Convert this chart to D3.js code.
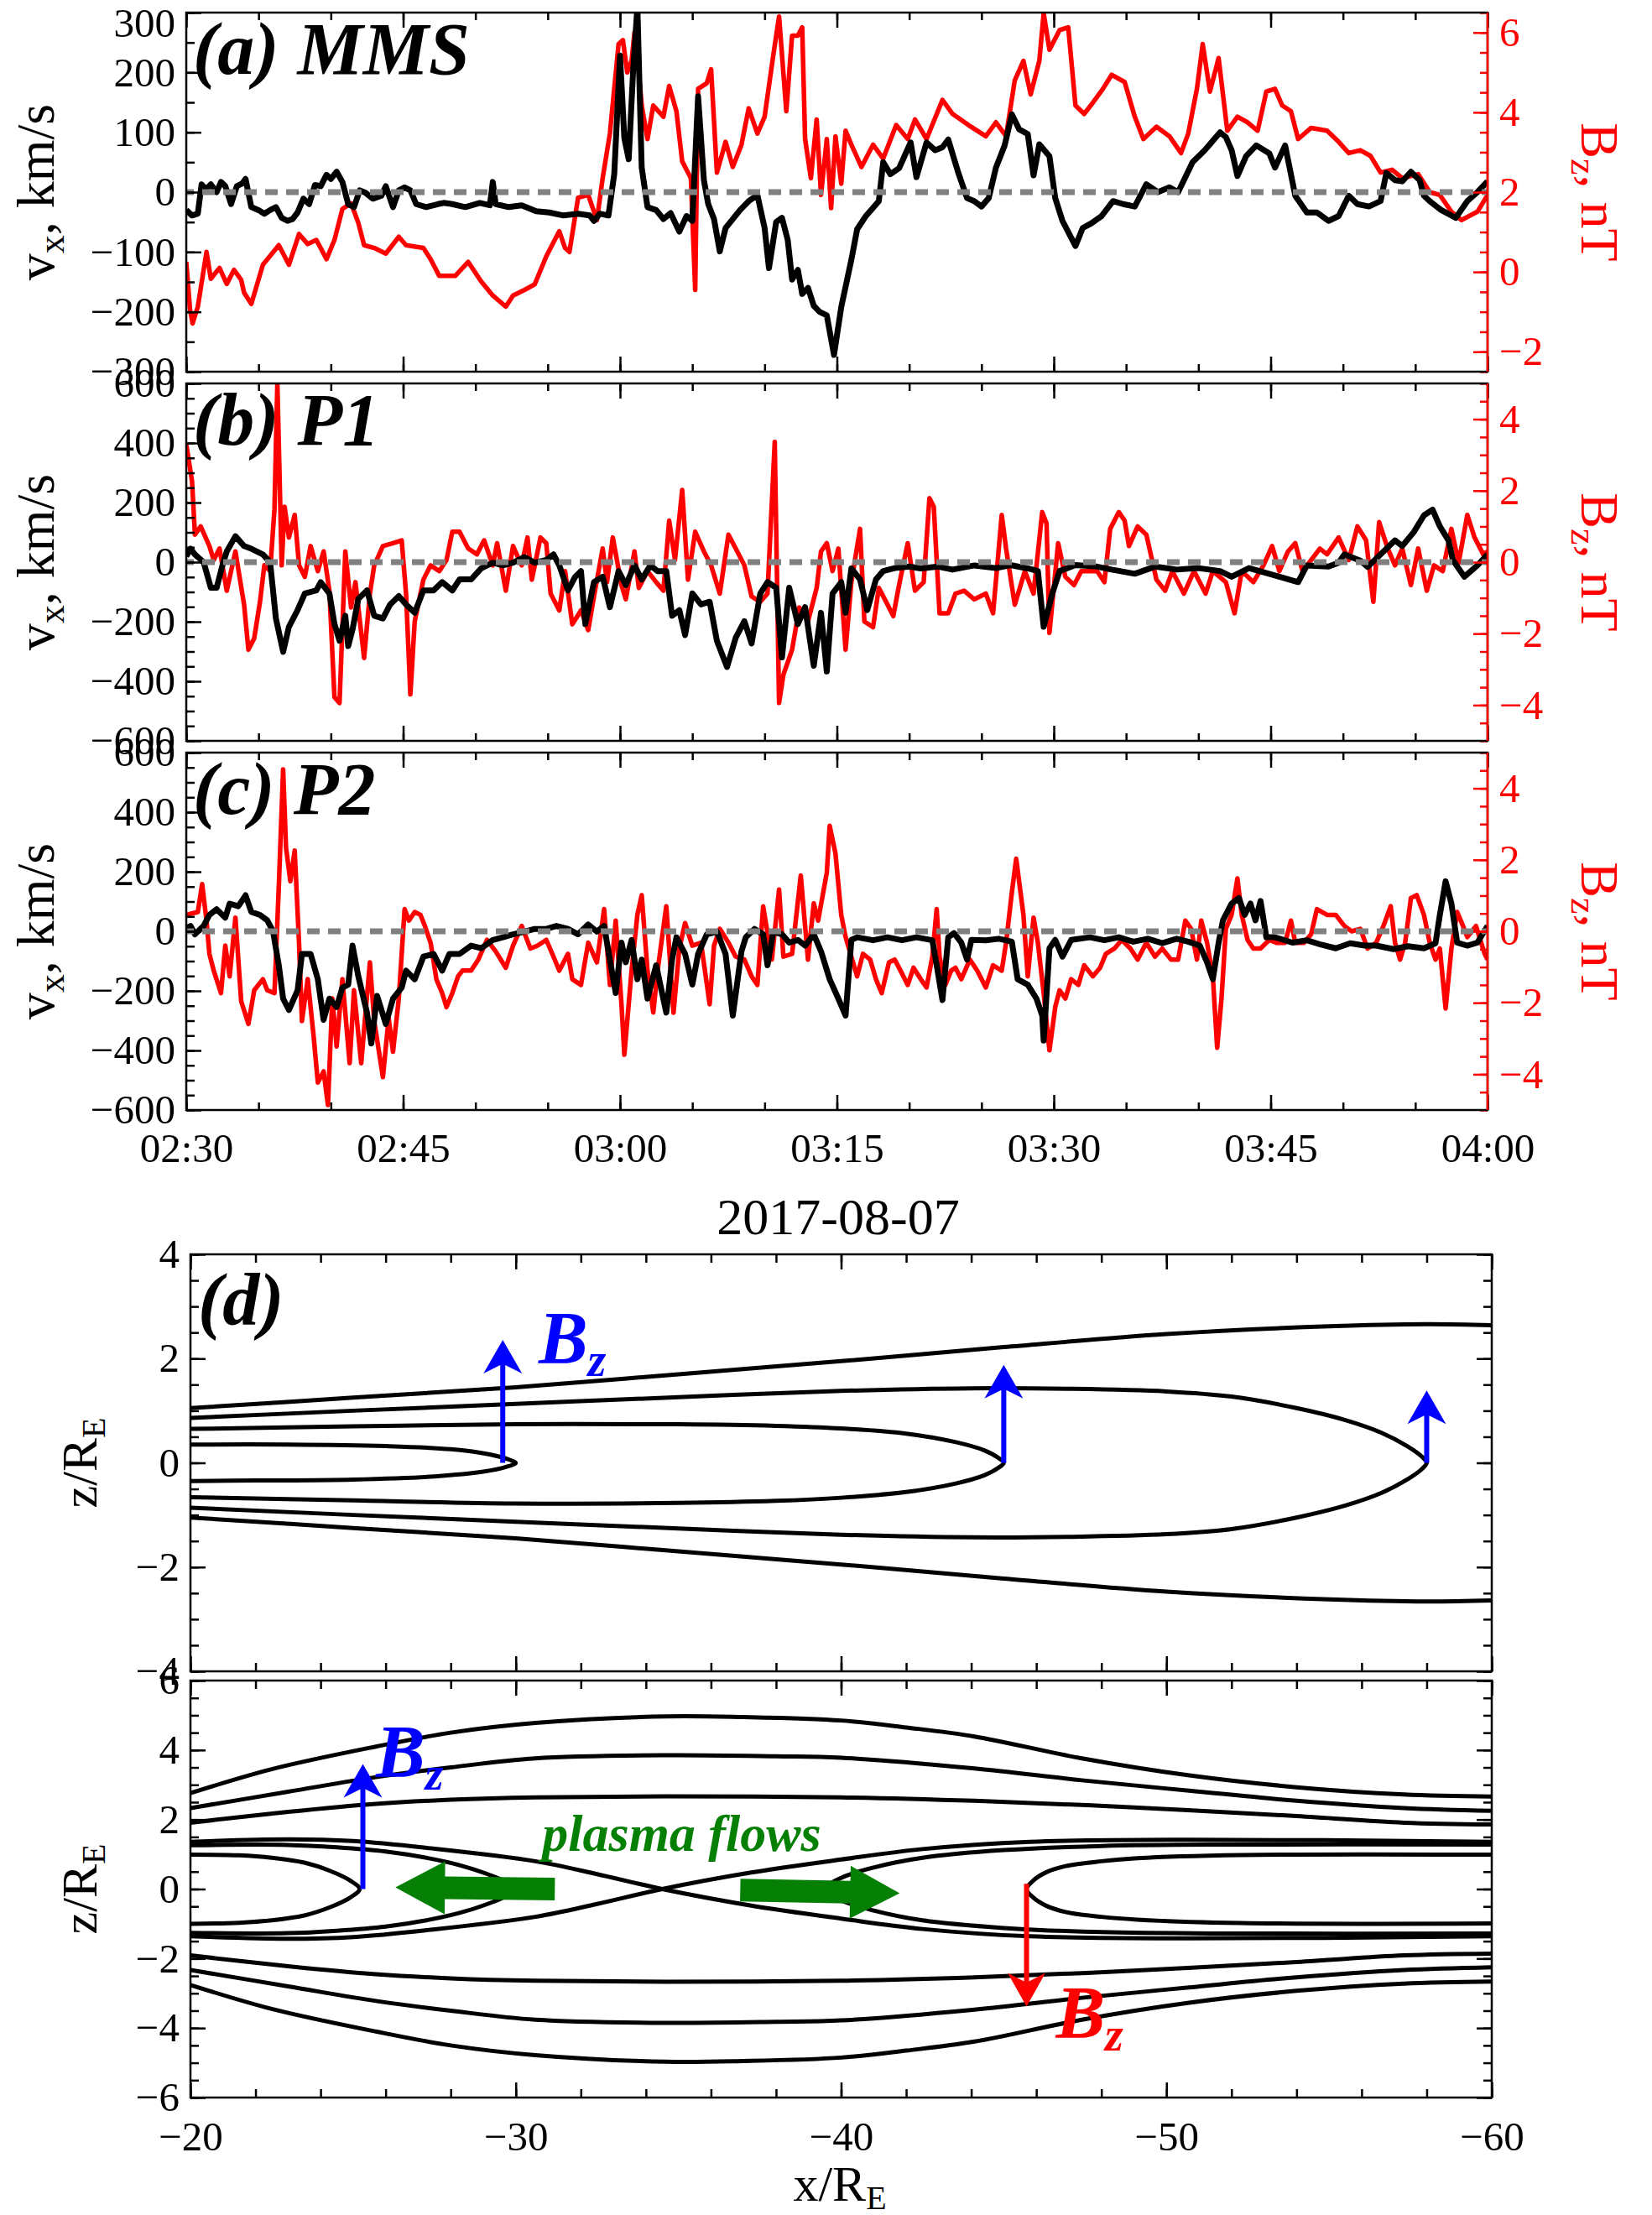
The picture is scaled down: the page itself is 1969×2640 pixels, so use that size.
<!DOCTYPE html>
<html>
<head>
<meta charset="utf-8">
<script src="https://cdn.jsdelivr.net/npm/d3@7"></script>
<style>
  body { margin: 0; background: #fff; }
  svg text { font-family: "Liberation Serif", "Times New Roman", serif; }
</style>
</head>
<body>
<div class="chart"></div>
<script>
// ---------- data (time = minutes after 02:30 UT, 2017-08-07) ----------
const timeTickLabels = ["02:30", "02:45", "03:00", "03:15", "03:30", "03:45", "04:00"];
const timeMajor = [0, 15, 30, 45, 60, 75, 90];

const vTicksA = [-300, -200, -100, 0, 100, 200, 300];
const bTicksA = [-2, 0, 2, 4, 6];
const vTicksBC = [-600, -400, -200, 0, 200, 400, 600];
const bTicksBC = [-4, -2, 0, 2, 4];

// (a) MMS
const mmsVx = [[0,-30],[0.4,-39],[0.8,-36],[1.06,13],[1.35,5],[1.7,13],[2.1,0],[2.4,17],[2.7,10],[3.1,-20],[3.5,10],[3.9,15],[4.1,22],[4.5,-25],[5,-30],[5.4,-36],[5.8,-30],[6.2,-25],[6.6,-43],[7,-48],[7.35,-45],[7.7,-34],[8.1,-11],[8.5,-20],[8.9,12],[9.3,10],[9.7,29],[10,22],[10.4,34],[10.8,17],[11.2,-20],[11.6,-25],[12,3],[12.4,-1],[12.9,-11],[13.5,-6],[13.8,10],[14.3,-25],[14.7,3],[15.1,8],[15.5,3],[15.9,-20],[16.6,-25],[17.4,-20],[17.8,-18],[18.4,-20],[19.3,-25],[20.3,-18],[21,-22],[21.2,17],[21.4,-20],[22.3,-25],[23.2,-22],[24.2,-32],[25.1,-34],[26.1,-39],[27.1,-36],[27.9,-39],[28.2,-48],[28.6,-36],[29.2,-39],[29.6,30],[30,228],[30.3,90],[30.6,55],[30.9,200],[31.2,310],[31.5,41],[31.9,-25],[32.5,-30],[33,-45],[33.5,-35],[34.1,-66],[34.6,-40],[35,-48],[35.4,160],[35.8,20],[36.1,-20],[36.5,-45],[36.9,-99],[37.3,-60],[37.8,-45],[38.3,-30],[38.9,-15],[39.5,-5],[40,-60],[40.3,-127],[40.8,-50],[41.2,-43],[41.6,-80],[41.9,-146],[42.3,-130],[42.6,-170],[43,-160],[43.4,-190],[43.8,-200],[44.3,-206],[44.8,-272],[45.3,-192],[46,-113],[46.4,-62],[47,-40],[47.9,-15],[48.2,50],[48.7,30],[49.3,40],[50.1,83],[50.5,25],[51.2,83],[51.8,70],[52.3,75],[52.7,88],[53.4,32],[54,-10],[54.5,-15],[55,-24],[55.5,-10],[56,41],[56.6,78],[57.1,130],[57.6,105],[58.2,97],[58.6,28],[59,80],[59.7,60],[60.1,-10],[60.6,-48],[61.5,-90],[62,-60],[62.6,-52],[63.3,-40],[64.1,-15],[64.8,-20],[65.6,-24],[66.4,13],[67.2,0],[68,8],[68.6,0],[69,20],[69.6,50],[70.4,69],[70.8,80],[71.5,100],[71.9,92],[72.3,70],[72.7,27],[73.3,60],[74,78],[74.9,65],[75.3,41],[76,78],[76.7,-6],[77.5,-34],[78.2,-34],[79,-48],[79.7,-40],[80.4,-6],[81,-20],[81.8,-24],[82.6,-15],[83,32],[83.6,20],[84.1,18],[84.7,34],[85.3,20],[85.6,-6],[86,-15],[86.8,-30],[87.8,-43],[88.6,-15],[89.3,0],[90,18]];
const mmsBz = [[0,0.25],[0.26,-0.94],[0.44,-1.29],[0.8,-0.87],[1.4,0.5],[1.7,-0.17],[2.3,0.1],[2.8,-0.3],[3.3,0.05],[3.8,-0.2],[4,-0.52],[4.5,-0.8],[5.3,0.18],[5.8,0.4],[6.4,0.67],[7.1,0.18],[7.8,0.95],[8.4,0.7],[9,0.8],[9.7,0.32],[10.25,0.8],[10.8,1.58],[11.4,1.72],[11.9,1.23],[12.3,0.67],[13,0.6],[13.8,0.46],[14.7,0.88],[15.2,0.67],[16.4,0.6],[16.9,0.32],[17.5,-0.1],[18.6,-0.1],[19.5,0.25],[20.4,-0.24],[21.2,-0.59],[22.1,-0.87],[22.6,-0.59],[23.4,-0.45],[24.1,-0.31],[24.9,0.39],[25.8,1.02],[26.2,0.6],[26.5,0.5],[27.1,1.86],[27.8,1.93],[28.4,1.3],[28.8,2.35],[29.3,3.47],[29.9,5.71],[30.2,5.81],[30.5,5.0],[30.8,5.29],[31,6.0],[31.2,5.43],[31.5,4.17],[31.9,3.33],[32.3,4.17],[33,3.89],[33.4,4.66],[33.9,4.03],[34.3,2.77],[34.9,2.35],[35.2,-0.45],[35.4,4.59],[36,4.73],[36.3,5.08],[36.7,2.49],[37.3,3.26],[37.8,2.63],[38.4,3.19],[38.9,4.1],[39.5,3.47],[40,3.89],[40.6,5.43],[41,6.4],[41.5,4.03],[41.9,5.92],[42.3,5.92],[42.6,6.13],[42.8,3.33],[43.2,2.35],[43.6,3.82],[43.9,1.93],[44.3,3.33],[44.6,1.6],[44.9,3.4],[45.3,2.21],[45.6,3.54],[46,3.19],[46.7,2.63],[47.5,3.19],[48.2,2.84],[49.1,3.68],[49.9,3.33],[50.4,3.82],[51.2,3.33],[52.3,4.31],[53,3.96],[54.1,3.68],[55.3,3.4],[56,3.75],[56.7,3.4],[57.3,4.8],[57.9,5.29],[58.4,4.45],[59,5.29],[59.3,6.48],[59.7,5.57],[60.4,6.06],[61,6.13],[61.5,4.17],[62.1,3.96],[62.7,4.24],[63.4,4.59],[64,4.94],[64.9,4.76],[65.6,3.89],[66.2,3.33],[67.1,3.64],[68,3.4],[68.8,2.98],[69.3,3.47],[69.9,4.59],[70.3,5.71],[70.8,4.52],[71.4,5.36],[72,3.54],[72.7,3.89],[73.4,3.75],[74.1,3.54],[74.7,4.52],[75.3,4.59],[75.8,4.17],[76.4,4.03],[76.9,3.33],[77.8,3.61],[78.9,3.54],[79.7,3.26],[80.4,2.98],[81.2,3.05],[81.9,2.91],[82.6,2.49],[83.4,2.56],[84.1,2.35],[85.2,2.45],[86,2.0],[86.7,1.93],[87.5,1.51],[88.2,1.3],[89.3,1.51],[90,1.93]];

// (b) P1
const p1Vx = [[0,20],[0.3,45],[0.6,26],[1.2,0],[1.7,-86],[2.1,-86],[2.5,-11],[2.8,36],[3.4,87],[4,54],[4.5,45],[5.3,26],[5.8,0],[6.2,-189],[6.7,-301],[7.1,-217],[7.7,-161],[8.2,-105],[9,-95],[9.3,-67],[9.9,-105],[10.25,-208],[10.6,-264],[11,-180],[11.2,-282],[11.5,-226],[11.9,-123],[12.5,-95],[13,-180],[13.6,-189],[14.1,-142],[14.7,-114],[15.2,-142],[15.8,-170],[16.4,-95],[17.1,-95],[17.7,-67],[18.4,-95],[18.9,-58],[19.7,-58],[20.4,-21],[21.2,-2],[21.9,-11],[22.6,-2],[23.4,17],[24.1,-2],[24.9,7],[25.4,26],[25.8,-11],[26.4,-95],[26.9,-49],[27.3,-30],[27.6,-208],[28.2,-67],[28.8,-49],[29.3,-151],[29.9,-30],[30.4,-77],[31,-11],[31.5,-58],[32.1,-11],[32.6,-30],[33.2,-30],[33.6,-180],[34.1,-161],[34.5,-245],[35,-105],[35.6,-142],[36.2,-133],[36.7,-264],[37.4,-352],[38,-254],[38.6,-198],[39.1,-273],[39.7,-105],[40.2,-67],[40.8,-86],[41.2,-320],[41.7,-86],[42.3,-208],[42.8,-151],[43.4,-348],[43.9,-170],[44.3,-367],[44.7,-105],[45.3,-67],[45.6,-170],[46,-21],[46.6,-58],[47.1,-161],[47.7,-58],[48.2,-30],[49,-20],[50,-15],[50.8,-21],[52,-15],[53,-25],[54.5,-11],[56,-20],[57,-10],[58.2,-21],[58.9,-30],[59.3,-217],[59.9,-105],[60.4,-30],[61.5,-10],[63,-15],[64,-25],[65.6,-39],[67,-15],[68.5,-25],[70,-20],[71.5,-30],[72.3,-49],[73.5,-20],[75.6,-49],[76.9,-67],[77.5,-11],[79,-15],[79.7,-2],[80.1,26],[81.2,5],[81.7,-16],[82.6,26],[83.6,73],[84.1,54],[84.9,101],[85.6,157],[86.2,176],[86.7,120],[87.3,73],[87.6,7],[88.4,-49],[89.3,-11],[90,26]];
const p1Bz = [[0,3.3],[0.1,3.04],[0.4,2.26],[0.6,0.77],[1,1.0],[1.6,0.45],[1.9,0.06],[2.3,0.38],[2.8,-0.8],[3.4,0.3],[4,-1.19],[4.3,-2.45],[4.7,-2.13],[5.1,-1.11],[5.4,-0.09],[5.8,-0.25],[6.1,1.47],[6.3,5.0],[6.6,-0.09],[6.8,1.55],[7.1,0.69],[7.5,1.32],[7.8,-0.09],[8.2,-0.41],[8.6,0.45],[9.1,-0.25],[9.5,0.3],[9.9,-0.8],[10.25,-3.78],[10.6,-3.94],[11,0.3],[11.4,-1.27],[11.7,-0.56],[12.3,-2.68],[12.7,-0.88],[13,-0.09],[13.6,0.45],[14.3,0.53],[14.9,0.61],[15.2,-0.88],[15.5,-3.7],[15.8,-1.66],[16.4,-0.49],[16.9,-0.09],[17.5,-0.25],[18,0.06],[18.4,0.85],[18.9,0.85],[19.5,0.38],[20.1,0.22],[20.6,0.61],[21.2,-0.09],[21.5,0.53],[22.1,-0.8],[22.6,0.45],[23.2,-0.09],[23.6,0.69],[23.9,-0.49],[24.5,0.69],[24.9,0.53],[25.2,-0.88],[25.8,-1.35],[26.2,-0.25],[26.7,-1.74],[27.3,-1.35],[27.8,-1.9],[28.2,-0.96],[28.8,0.38],[29.1,-0.56],[29.5,0.69],[30.1,-0.64],[30.4,-1.04],[31,0.3],[31.3,-0.72],[31.9,-0.25],[32.5,-0.56],[33,-0.8],[33.4,1.16],[33.8,0.06],[34.3,2.02],[34.7,-0.49],[35.2,0.85],[35.8,0.3],[36.3,-0.09],[36.9,-0.88],[37.5,0.77],[38,0.38],[38.6,-0.09],[39.1,-0.96],[39.7,-1.11],[40.2,-0.88],[40.7,3.36],[41,-3.94],[41.3,-3.15],[41.9,-2.45],[42.4,-1.27],[43,-1.66],[43.6,-0.72],[43.9,0.3],[44.3,0.53],[44.7,-0.25],[45.1,0.38],[45.6,-2.45],[46,-0.56],[46.6,0.93],[46.9,-1.66],[47.5,-1.82],[47.9,-0.72],[48.4,-1.11],[48.9,-1.51],[49.3,-0.64],[49.9,0.53],[50.4,-0.8],[51,-0.56],[51.4,1.79],[51.7,1.55],[52.1,-1.43],[52.7,-1.43],[53.2,-0.88],[53.8,-0.8],[54.5,-1.04],[55.3,-0.88],[55.8,-1.43],[56.4,1.32],[56.7,0.38],[57.3,-1.19],[58,-0.25],[58.6,-0.88],[59.2,1.4],[59.5,1.08],[59.7,-1.98],[60.3,0.53],[60.8,-0.41],[61.4,-0.64],[61.9,-0.25],[63,-0.25],[63.5,-0.56],[63.9,0.93],[64.5,1.4],[64.9,1.16],[65.2,0.45],[65.8,1.0],[66.4,0.77],[67.1,-0.49],[67.7,-0.8],[68.2,-0.25],[69,-0.88],[69.7,-0.25],[70.5,-0.88],[71,-0.25],[71.9,-0.56],[72.5,-1.43],[73,-0.25],[73.8,-0.56],[74.5,-0.09],[75.1,0.45],[75.6,-0.25],[76.2,0.3],[76.7,0.53],[77.2,-0.25],[77.8,0.06],[78.4,0.38],[78.9,0.22],[79.7,0.69],[80.4,0.06],[81,1.0],[81.6,0.61],[82.1,-1.11],[82.5,1.12],[83.1,0.38],[83.6,-0.09],[84.1,0.38],[84.7,-0.64],[85.2,0.38],[85.8,-0.8],[86.3,-0.09],[86.9,-0.25],[87.5,0.93],[88,-0.02],[88.6,1.32],[89.1,0.69],[89.7,0.22],[90,0.3]];

// (c) P2
const p2Vx = [[0,10],[0.3,18],[0.6,-10],[1.2,18],[1.6,55],[2.1,74],[2.7,46],[3,93],[3.6,84],[4.1,121],[4.5,65],[5.1,55],[5.6,37],[6,0],[6.4,-114],[6.7,-226],[7.1,-264],[7.7,-198],[8,-76],[8.6,-76],[9.1,-161],[9.5,-297],[9.9,-226],[10.4,-254],[10.8,-189],[11.2,-179],[11.5,-48],[11.9,-151],[12.5,-273],[12.8,-377],[13.2,-217],[13.8,-311],[14.3,-226],[14.9,-189],[15.2,-132],[15.8,-161],[16.4,-85],[17.1,-76],[17.7,-132],[18.2,-76],[18.9,-76],[19.7,-48],[20.4,-57],[21.2,-29],[21.9,-20],[22.6,-10],[23.4,-1],[24.1,8],[24.9,8],[25.6,18],[26.4,8],[27.1,-10],[27.8,23],[28.4,-1],[28.9,18],[29.3,-95],[29.7,-207],[30.1,-38],[30.4,-104],[30.8,-29],[31.2,-161],[31.5,-95],[31.9,-226],[32.5,-114],[33.2,-273],[33.6,-95],[33.9,-20],[34.5,-76],[35,-179],[35.4,-76],[36,-10],[36.7,-1],[37.3,-76],[37.8,-283],[38.4,-67],[38.7,-20],[39.3,8],[39.9,-10],[40.2,-114],[40.6,-1],[41.2,-10],[41.7,-38],[42.3,-29],[42.8,-48],[43.4,-10],[43.9,-67],[44.5,-161],[45.1,-226],[45.6,-283],[46,-29],[46.4,-20],[47.5,-30],[48.5,-20],[49.5,-30],[50.5,-20],[51.6,-30],[51.9,-114],[52.3,-231],[52.7,-20],[53.1,-6],[53.6,-38],[54,-95],[54.3,-29],[55.3,-30],[56.2,-25],[57.1,-35],[57.5,-161],[58.2,-179],[58.8,-226],[59.2,-283],[59.3,-367],[59.7,-57],[60.1,-29],[60.6,-85],[61.2,-29],[62.5,-20],[63.5,-30],[64.5,-20],[65.5,-35],[66.5,-25],[67.5,-40],[68.5,-25],[69.3,-35],[70.1,-48],[70.6,-104],[71,-161],[71.4,-38],[71.7,37],[72.3,93],[72.8,112],[73.2,55],[73.6,93],[73.95,37],[74.3,102],[74.7,-20],[75.3,-20],[76.5,-38],[77.5,-30],[78.5,-45],[79.5,-57],[80.5,-40],[81.5,-48],[82.3,-48],[83.5,-60],[84.5,-50],[85.6,-57],[86.4,-40],[86.7,55],[87.1,168],[87.5,93],[87.9,-38],[88.6,-48],[89.3,-38],[90,18]];
const p2Bz = [[0,0.46],[0.8,0.54],[1.1,1.32],[1.4,0.3],[1.6,-0.63],[1.9,-1.1],[2.4,-1.73],[2.7,-0.4],[3,-1.26],[3.4,0.38],[3.8,-1.96],[4.3,-2.59],[4.7,-1.65],[5.3,-1.34],[5.6,-1.65],[6.1,-1.73],[6.4,1.24],[6.7,4.53],[6.9,2.34],[7.2,1.4],[7.5,2.26],[7.8,-0.32],[8,-2.51],[8.4,-1.34],[8.8,-2.9],[9.1,-4.23],[9.5,-3.92],[9.8,-4.86],[10.1,-1.88],[10.4,-3.22],[10.8,-1.34],[11.3,-3.69],[11.6,-1.65],[12.1,-3.69],[12.7,-0.87],[13,-2.51],[13.6,-4.08],[14,-2.43],[14.3,-3.37],[14.7,-1.88],[15.1,0.62],[15.4,0.3],[15.8,0.54],[16.2,0.46],[16.5,0.15],[16.9,-0.32],[17.3,-1.34],[17.7,-1.73],[18,-2.12],[18.4,-1.73],[18.8,-1.26],[19.1,-1.1],[19.7,-1.1],[20.2,-0.79],[20.8,-0.24],[21.4,-0.56],[22.1,-1.02],[22.6,-0.4],[23.2,0.15],[23.8,-0.48],[24.3,-0.4],[24.9,-0.24],[25.4,-0.71],[25.8,-1.1],[26.4,-0.63],[26.7,-1.34],[27.3,-1.5],[27.8,-0.32],[28.4,-0.87],[28.9,0.62],[29.3,-1.5],[29.7,0.3],[30.1,-2.04],[30.3,-3.45],[30.8,-1.1],[31.2,0.46],[31.5,1.01],[31.9,-1.1],[32.3,-2.27],[32.6,-1.1],[33.2,0.7],[33.7,-2.28],[34.1,-0.48],[34.5,0.23],[35,-0.4],[35.6,-0.32],[36.2,-2.04],[36.5,-0.4],[36.9,0.07],[37.5,-0.32],[38,-0.71],[38.6,-0.79],[39.1,-1.26],[39.5,-1.5],[39.9,0.7],[40.5,-0.79],[41,1.17],[41.3,-0.71],[41.9,-0.63],[42.5,1.56],[43,-0.79],[43.4,0.78],[43.7,0.3],[44.3,1.64],[44.5,2.95],[44.9,2.18],[45.3,0.46],[45.6,-0.16],[46,-0.71],[46.4,-1.26],[46.8,-0.63],[47.3,-0.79],[47.7,-1.34],[48.1,-1.73],[48.6,-0.87],[49,-0.79],[49.4,-1.1],[49.9,-1.5],[50.3,-1.02],[50.8,-1.34],[51.2,-1.57],[51.6,-0.71],[51.9,0.62],[52.1,-0.71],[52.5,-1.5],[52.9,-1.1],[53.2,-1.02],[53.6,-1.34],[54.2,-0.79],[54.7,-1.1],[55.3,-1.57],[55.8,-0.95],[56.4,-1.1],[56.7,-0.32],[57.1,1.09],[57.4,2.03],[57.9,0.46],[58.2,-1.26],[58.6,0.38],[58.9,-0.32],[59.3,-1.73],[59.7,-3.33],[60.1,-2.12],[60.4,-1.65],[60.8,-1.88],[61.2,-1.34],[61.7,-1.5],[62.1,-0.95],[62.7,-1.26],[63.2,-1.02],[63.6,-0.63],[64.2,-0.48],[64.7,-0.24],[65.3,-0.48],[65.8,-0.79],[66.4,-0.32],[67,-0.71],[67.5,-0.48],[68.1,-0.79],[68.6,-0.79],[69.1,0.3],[69.5,0.07],[69.9,-0.79],[70.2,0.3],[70.6,-0.32],[71,-1.26],[71.3,-3.26],[71.6,-1.88],[71.9,0.07],[72.3,0.46],[72.7,1.48],[73,0.46],[73.4,-0.24],[73.8,-0.48],[74.3,-0.48],[74.9,-0.24],[75.4,-0.32],[76,-0.32],[76.4,0.3],[76.7,-0.32],[77.3,-0.32],[77.8,-0.08],[78.2,0.62],[78.9,0.46],[79.5,0.46],[80.1,0.15],[80.6,0],[81.2,0.07],[81.7,-0.48],[82.3,-0.32],[82.8,0.15],[83.3,0.7],[83.6,-0.32],[83.95,-0.79],[84.3,-0.32],[84.7,0.93],[85.1,1.01],[85.6,0.46],[86,-0.32],[86.4,-0.79],[86.7,-0.48],[87.1,-2.16],[87.5,-0.48],[87.9,0.54],[88.3,0.15],[88.6,-0.16],[89.2,0.15],[89.8,-0.63],[90,-0.79]];

// (d) field-line sketches, [x/RE, z/RE]
const xTicksD = [-20, -30, -40, -50, -60];
const zTicksTop = [-4, -2, 0, 2, 4];
const zTicksBot = [-6, -4, -2, 0, 2, 4, 6];

const topOpenUp = [[-20,1.05],[-25,1.25],[-30,1.45],[-35,1.7],[-40,1.95],[-45,2.22],[-50,2.47],[-55,2.62],[-58,2.66],[-60,2.64]];
const topOpenDn = [[-20,-1.05],[-25,-1.25],[-30,-1.45],[-35,-1.7],[-40,-1.95],[-45,-2.22],[-50,-2.47],[-55,-2.62],[-58,-2.66],[-60,-2.64]];
const topLoop58 = [[-20,0.86],[-25,1.0],[-30,1.13],[-35,1.26],[-40,1.38],[-44,1.43],[-47,1.42],[-50,1.37],[-52,1.27],[-54,1.05],[-55.5,0.82],[-56.6,0.58],[-57.4,0.32],[-57.85,0.12],[-58,0],[-57.85,-0.12],[-57.4,-0.32],[-56.6,-0.58],[-55.5,-0.82],[-54,-1.05],[-52,-1.27],[-50,-1.37],[-47,-1.42],[-44,-1.43],[-40,-1.38],[-35,-1.26],[-30,-1.13],[-25,-1.0],[-20,-0.86]];
const topLoop45 = [[-20,0.65],[-25,0.7],[-30,0.74],[-35,0.74],[-38,0.71],[-40,0.66],[-42,0.56],[-43.5,0.4],[-44.4,0.24],[-44.85,0.09],[-45,0],[-44.85,-0.09],[-44.4,-0.24],[-43.5,-0.4],[-42,-0.56],[-40,-0.67],[-38,-0.73],[-35,-0.77],[-30,-0.78],[-25,-0.72],[-20,-0.66]];
const topLoop30 = [[-20,0.35],[-23,0.35],[-26,0.32],[-28,0.26],[-29.2,0.16],[-29.8,0.06],[-30,0],[-29.7,-0.08],[-29,-0.17],[-27.5,-0.26],[-25,-0.32],[-22,-0.34],[-20,-0.35]];
const topBzArrows = [[-29.6, 0, 2.36], [-45, 0, 1.88], [-58, 0, 1.39]];

const botOut1Up = [[-20,2.76],[-22.5,3.45],[-25.7,4.1],[-28,4.5],[-30.6,4.78],[-34.6,4.97],[-37,4.95],[-40,4.85],[-42,4.65],[-44.1,4.39],[-47.4,3.76],[-50.7,3.27],[-54,2.93],[-57.3,2.72],[-60,2.66]];
const botOut1Dn = [[-20,-2.76],[-22.5,-3.45],[-25.7,-4.1],[-28,-4.5],[-30.6,-4.78],[-34.6,-4.97],[-37,-4.95],[-40,-4.85],[-42,-4.65],[-44.1,-4.39],[-47.4,-3.76],[-50.7,-3.27],[-54,-2.93],[-57.3,-2.72],[-60,-2.66]];
const botOut2Up = [[-20,2.33],[-23,2.8],[-25.7,3.22],[-28,3.5],[-30.6,3.76],[-34.6,3.85],[-38,3.82],[-40,3.78],[-44.1,3.47],[-47.4,3.13],[-50.7,2.83],[-54,2.54],[-57.3,2.33],[-60,2.25]];
const botOut2Dn = [[-20,-2.33],[-23,-2.8],[-25.7,-3.22],[-28,-3.5],[-30.6,-3.76],[-34.6,-3.85],[-38,-3.82],[-40,-3.78],[-44.1,-3.47],[-47.4,-3.13],[-50.7,-2.83],[-54,-2.54],[-57.3,-2.33],[-60,-2.25]];
const botOut3Up = [[-20,1.91],[-23,2.22],[-25.7,2.45],[-28,2.57],[-30.6,2.64],[-34.6,2.67],[-40,2.64],[-44.1,2.54],[-49,2.35],[-54,2.1],[-57.3,1.91],[-60,1.86]];
const botOut3Dn = [[-20,-1.91],[-23,-2.22],[-25.7,-2.45],[-28,-2.57],[-30.6,-2.64],[-34.6,-2.67],[-40,-2.64],[-44.1,-2.54],[-49,-2.35],[-54,-2.1],[-57.3,-1.91],[-60,-1.86]];
const separatrix1 = [[-20,1.36],[-23,1.43],[-25,1.38],[-27.3,1.18],[-30.6,0.8],[-32.5,0.43],[-34.5,0],[-37.2,-0.47],[-40,-0.85],[-42.5,-1.15],[-45.8,-1.36],[-50.7,-1.42],[-60,-1.36]];
const separatrix2 = [[-20,-1.36],[-23,-1.43],[-25,-1.38],[-27.3,-1.18],[-30.6,-0.8],[-32.5,-0.43],[-34.5,0],[-37.2,0.47],[-40,0.85],[-42.5,1.15],[-45.8,1.36],[-50.7,1.42],[-60,1.36]];
const botLoop30 = [[-20,1.26],[-23,1.27],[-24.5,1.2],[-26,1.08],[-27.3,0.89],[-28.3,0.68],[-29.1,0.44],[-29.7,0.2],[-29.9,0],[-29.7,-0.2],[-29.1,-0.44],[-28.3,-0.68],[-27.3,-0.89],[-26,-1.08],[-24.5,-1.2],[-23,-1.27],[-20,-1.26]];
const botLoop39 = [[-60,1.28],[-52,1.28],[-48,1.24],[-45,1.12],[-42.5,0.9],[-41,0.62],[-40,0.32],[-39.5,0],[-40,-0.32],[-41,-0.62],[-42.5,-0.9],[-45,-1.12],[-48,-1.24],[-52,-1.28],[-60,-1.28]];
const botLoop25 = [[-20,0.99],[-21.5,0.97],[-22.5,0.9],[-23.5,0.76],[-24.3,0.52],[-24.9,0.25],[-25.2,0],[-24.9,-0.25],[-24.3,-0.52],[-23.5,-0.76],[-22.5,-0.9],[-21.5,-0.97],[-20,-1.0]];
const botLoop46 = [[-60,0.99],[-52.3,0.98],[-49.1,0.89],[-48,0.8],[-46.9,0.66],[-46.3,0.48],[-45.9,0.24],[-45.7,0],[-45.9,-0.24],[-46.3,-0.48],[-46.9,-0.66],[-48,-0.8],[-49.1,-0.88],[-52.3,-0.98],[-60,-0.99]];
const botBzUp = [-25.3, 0, 3.6];
const botBzDown = [-45.7, 0.15, -3.38];
const flowArrows = [[-31.2, 0.0, -26.3, 0.05], [-36.9, -0.03, -41.8, -0.12]];

// ---------- layout ----------
const W = 1969, H = 2640;
const FS = 49;
const svg = d3.select(".chart").append("svg")
  .attr("width", W).attr("height", H)
  .style("background", "#fff");
const defs = svg.append("defs");

const x = d3.scaleLinear().domain([0, 90]).range([222, 1773]);
const fmt = d3.format("d");

function styleAxis(sel, color, fs) {
  sel.select(".domain").remove();
  sel.selectAll("line").attr("stroke", color).attr("stroke-width", 2.5);
  sel.selectAll("text").attr("fill", color).attr("font-size", fs)
    .style("font-family", "'Liberation Serif', serif");
}

function arrowPoints(x1, y1, x2, y2, sw, hw, hl, notch) {
  const L = Math.hypot(x2 - x1, y2 - y1);
  const ux = (x2 - x1) / L, uy = (y2 - y1) / L, nx = -uy, ny = ux;
  const bx = x2 - ux * hl, by = y2 - uy * hl;
  const sx = bx + ux * notch, sy = by + uy * notch;
  return [
    [x1 + nx * sw / 2, y1 + ny * sw / 2],
    [sx + nx * sw / 2, sy + ny * sw / 2],
    [bx + nx * hw / 2, by + ny * hw / 2],
    [x2, y2],
    [bx - nx * hw / 2, by - ny * hw / 2],
    [sx - nx * sw / 2, sy - ny * sw / 2],
    [x1 - nx * sw / 2, y1 - ny * sw / 2]
  ];
}

function drawArrow(g, pts, color) {
  g.append("polygon").attr("points", pts.map(p => p.join(",")).join(" ")).attr("fill", color);
}

// ---------- panels (a)-(c) ----------
const panels = [
  {key: "a", name: "MMS", top: 15, bottom: 443, vx: mmsVx, bz: mmsBz, vDom: [-300, 300], vTicks: vTicksA, vMinor: 50, bDom: [-2.5, 6.5], bTicks: bTicksA},
  {key: "b", name: "P1", top: 457, bottom: 883, vx: p1Vx, bz: p1Bz, vDom: [-600, 600], vTicks: vTicksBC, vMinor: 50, bDom: [-5, 5], bTicks: bTicksBC},
  {key: "c", name: "P2", top: 897, bottom: 1323, vx: p2Vx, bz: p2Bz, vDom: [-600, 600], vTicks: vTicksBC, vMinor: 50, bDom: [-5, 5], bTicks: bTicksBC}
];

panels.forEach((p, i) => {
  const X0 = x.range()[0], X1 = x.range()[1];
  const y = d3.scaleLinear().domain(p.vDom).range([p.bottom, p.top]);
  const yb = d3.scaleLinear().domain(p.bDom).range([p.bottom, p.top]);
  const g = svg.append("g").attr("class", "panel-" + p.key);

  defs.append("clipPath").attr("id", "clip-" + p.key)
    .append("rect").attr("x", X0).attr("y", p.top).attr("width", X1 - X0).attr("height", p.bottom - p.top);

  const plot = g.append("g").attr("clip-path", `url(#clip-${p.key})`);
  plot.append("path").datum(p.bz)
    .attr("d", d3.line().x(d => x(d[0])).y(d => yb(d[1])))
    .attr("fill", "none").attr("stroke", "#ff0000").attr("stroke-width", 5.5).attr("stroke-linejoin", "round");
  plot.append("path").datum(p.vx)
    .attr("d", d3.line().x(d => x(d[0])).y(d => y(d[1])))
    .attr("fill", "none").attr("stroke", "#000").attr("stroke-width", 7).attr("stroke-linejoin", "round");
  plot.append("line")
    .attr("x1", X0).attr("x2", X1).attr("y1", y(0)).attr("y2", y(0))
    .attr("stroke", "#808080").attr("stroke-width", 7)
    .attr("stroke-dasharray", "15,10").attr("stroke-dashoffset", 6);

  // left axis (v_x)
  g.append("g").attr("transform", `translate(${X0},0)`)
    .call(d3.axisLeft(y).tickValues(d3.range(p.vDom[0], p.vDom[1] + 1, p.vMinor)).tickSize(-10).tickFormat(""))
    .call(s => styleAxis(s, "#000", FS));
  const left = g.append("g").attr("transform", `translate(${X0},0)`)
    .call(d3.axisLeft(y).tickValues(p.vTicks).tickSize(-18).tickPadding(13).tickFormat(fmt))
    .call(s => styleAxis(s, "#000", FS));
  // the top label of the first panel sits just inside the picture, as in the original
  if (i === 0) left.selectAll(".tick").filter(d => d === p.vDom[1]).select("text").attr("y", 13);

  // right axis (Bz)
  g.append("g").attr("transform", `translate(${X1},0)`)
    .call(d3.axisRight(yb).tickValues(d3.range(p.bDom[0], p.bDom[1] + 0.01, 0.5)).tickSize(-9).tickFormat(""))
    .call(s => styleAxis(s, "#ff0000", FS));
  g.append("g").attr("transform", `translate(${X1},0)`)
    .call(d3.axisRight(yb).tickValues(p.bTicks).tickSize(-17).tickPadding(14).tickFormat(fmt))
    .call(s => styleAxis(s, "#ff0000", FS));

  // time ticks, top and bottom
  const minorT = d3.range(0, 91, 5);
  [["top", p.top], ["bottom", p.bottom]].forEach(([side, yy]) => {
    const ax = side === "top" ? d3.axisTop : d3.axisBottom;
    g.append("g").attr("transform", `translate(0,${yy})`)
      .call(ax(x).tickValues(minorT).tickSize(-9).tickFormat(""))
      .call(s => styleAxis(s, "#000", FS));
    const major = ax(x).tickValues(timeMajor).tickSize(-18);
    if (side === "bottom" && i === panels.length - 1) {
      major.tickPadding(27).tickFormat((d, k) => timeTickLabels[k]);
    } else {
      major.tickFormat("");
    }
    g.append("g").attr("transform", `translate(0,${yy})`).call(major)
      .call(s => styleAxis(s, "#000", FS));
  });

  // frame
  g.append("rect").attr("x", X0).attr("y", p.top).attr("width", X1 - X0).attr("height", p.bottom - p.top)
    .attr("fill", "none").attr("stroke", "#000").attr("stroke-width", 2.5);
  g.append("line").attr("x1", X1).attr("x2", X1).attr("y1", p.top).attr("y2", p.bottom)
    .attr("stroke", "#ff0000").attr("stroke-width", 2.5);

  // panel label
  g.append("text").attr("x", 230).attr("y", p.top + 73)
    .attr("font-size", 88).attr("font-weight", "bold").attr("font-style", "italic")
    .text(`(${p.key}) ${p.name}`);

  // axis titles
  const cy = (p.top + p.bottom) / 2;
  const yl = g.append("text").attr("transform", `translate(64,${cy}) rotate(-90)`)
    .attr("text-anchor", "middle").attr("font-size", 64).attr("fill", "#000");
  yl.append("tspan").text("v");
  yl.append("tspan").attr("font-size", 44).attr("dy", 12).text("x");
  yl.append("tspan").attr("dy", -12).text(", km/s");

  const br = g.append("text").attr("transform", `translate(1885,${cy}) rotate(90)`)
    .attr("text-anchor", "middle").attr("font-size", 64).attr("fill", "#ff0000");
  br.append("tspan").text("B");
  br.append("tspan").attr("font-size", 44).attr("dy", 12).text("z");
  br.append("tspan").attr("dy", -12).text(", nT");
});

// date
svg.append("text").attr("x", 999).attr("y", 1471).attr("text-anchor", "middle")
  .attr("font-size", 62).text("2017-08-07");

// ---------- panel (d) ----------
const xd = d3.scaleLinear().domain([-20, -60]).range([227, 1778]);
const dPanels = [
  {key: "d1", top: 1495, bottom: 1992, zDom: [-4, 4], zTicks: zTicksTop, labels: false},
  {key: "d2", top: 2003, bottom: 2500, zDom: [-6, 6], zTicks: zTicksBot, labels: true}
];
const curve = d3.curveCatmullRom.alpha(0.5);

dPanels.forEach(p => {
  const X0 = xd.range()[0], X1 = xd.range()[1];
  const z = d3.scaleLinear().domain(p.zDom).range([p.bottom, p.top]);
  p.z = z;
  const g = svg.append("g").attr("class", "panel-" + p.key);

  defs.append("clipPath").attr("id", "clip-" + p.key)
    .append("rect").attr("x", X0).attr("y", p.top).attr("width", X1 - X0).attr("height", p.bottom - p.top);
  p.plot = g.append("g").attr("clip-path", `url(#clip-${p.key})`);
  p.line = d3.line().x(d => xd(d[0])).y(d => z(d[1])).curve(curve);

  const minorZ = d3.range(p.zDom[0], p.zDom[1] + 0.01, 0.5);
  g.append("g").attr("transform", `translate(${X0},0)`)
    .call(d3.axisLeft(z).tickValues(minorZ).tickSize(-10).tickFormat(""))
    .call(s => styleAxis(s, "#000", FS));
  g.append("g").attr("transform", `translate(${X0},0)`)
    .call(d3.axisLeft(z).tickValues(p.zTicks).tickSize(-18).tickPadding(13).tickFormat(fmt))
    .call(s => styleAxis(s, "#000", FS));
  g.append("g").attr("transform", `translate(${X1},0)`)
    .call(d3.axisRight(z).tickValues(minorZ).tickSize(-10).tickFormat(""))
    .call(s => styleAxis(s, "#000", FS));
  g.append("g").attr("transform", `translate(${X1},0)`)
    .call(d3.axisRight(z).tickValues(p.zTicks).tickSize(-18).tickFormat(""))
    .call(s => styleAxis(s, "#000", FS));

  const minorX = d3.range(-20, -60.01, -2);
  [["top", p.top], ["bottom", p.bottom]].forEach(([side, yy]) => {
    const ax = side === "top" ? d3.axisTop : d3.axisBottom;
    g.append("g").attr("transform", `translate(0,${yy})`)
      .call(ax(xd).tickValues(minorX).tickSize(-10).tickFormat(""))
      .call(s => styleAxis(s, "#000", FS));
    const major = ax(xd).tickValues(xTicksD).tickSize(-18);
    if (side === "bottom" && p.labels) major.tickPadding(28).tickFormat(fmt);
    else major.tickFormat("");
    g.append("g").attr("transform", `translate(0,${yy})`).call(major)
      .call(s => styleAxis(s, "#000", FS));
  });

  g.append("rect").attr("x", X0).attr("y", p.top).attr("width", X1 - X0).attr("height", p.bottom - p.top)
    .attr("fill", "none").attr("stroke", "#000").attr("stroke-width", 2.5);

  const cy = (p.top + p.bottom) / 2;
  const zl = g.append("text").attr("transform", `translate(115,${cy}) rotate(-90)`)
    .attr("text-anchor", "middle").attr("font-size", 60);
  zl.append("tspan").text("z/R");
  zl.append("tspan").attr("font-size", 40).attr("dy", 10).text("E");
});

function fieldLines(p, lines) {
  lines.forEach(l => {
    p.plot.append("path").datum(l).attr("d", p.line)
      .attr("fill", "none").attr("stroke", "#000").attr("stroke-width", 5);
  });
}

function bzLabel(g, px, py, color) {
  const t = g.append("text").attr("x", px).attr("y", py).attr("fill", color)
    .attr("font-size", 88).attr("font-weight", "bold").attr("font-style", "italic");
  t.append("tspan").text("B");
  t.append("tspan").attr("font-size", 56).attr("dy", 16).text("z");
}

// top sketch
const dTop = dPanels[0], dBot = dPanels[1];
fieldLines(dTop, [topOpenUp, topOpenDn, topLoop58, topLoop45, topLoop30]);
topBzArrows.forEach(a => {
  drawArrow(svg, arrowPoints(xd(a[0]), dTop.z(a[1]), xd(a[0]), dTop.z(a[2]), 6, 46, 40, 10), "#0000ff");
});
bzLabel(svg, xd(-30.7), dTop.z(1.92), "#0000ff");
svg.append("text").attr("x", 236).attr("y", dTop.top + 84)
  .attr("font-size", 88).attr("font-weight", "bold").attr("font-style", "italic").text("(d)");

// bottom sketch
fieldLines(dBot, [botOut1Up, botOut1Dn, botOut2Up, botOut2Dn, botOut3Up, botOut3Dn,
  separatrix1, separatrix2, botLoop30, botLoop39, botLoop25, botLoop46]);
drawArrow(svg, arrowPoints(xd(botBzUp[0]), dBot.z(botBzUp[1]), xd(botBzUp[0]), dBot.z(botBzUp[2]), 6, 46, 40, 10), "#0000ff");
drawArrow(svg, arrowPoints(xd(botBzDown[0]), dBot.z(botBzDown[1]), xd(botBzDown[0]), dBot.z(botBzDown[2]), 6, 45, 40, 10), "#ff0000");
flowArrows.forEach(a => {
  drawArrow(svg, arrowPoints(xd(a[0]), dBot.z(a[1]), xd(a[2]), dBot.z(a[3]), 27, 63, 59, 0), "#058005");
});
bzLabel(svg, xd(-25.7), dBot.z(3.24), "#0000ff");
bzLabel(svg, xd(-46.6), dBot.z(-4.25), "#ff0000");
svg.append("text").attr("x", xd(-35.1)).attr("y", dBot.z(1.09)).attr("text-anchor", "middle")
  .attr("fill", "#058005").attr("font-size", 62).attr("font-weight", "bold").attr("font-style", "italic")
  .text("plasma flows");

// x title
const xt = svg.append("text").attr("x", 1001).attr("y", 2623).attr("text-anchor", "middle").attr("font-size", 60);
xt.append("tspan").text("x/R");
xt.append("tspan").attr("font-size", 40).attr("dy", 10).text("E");
</script>
</body>
</html>
